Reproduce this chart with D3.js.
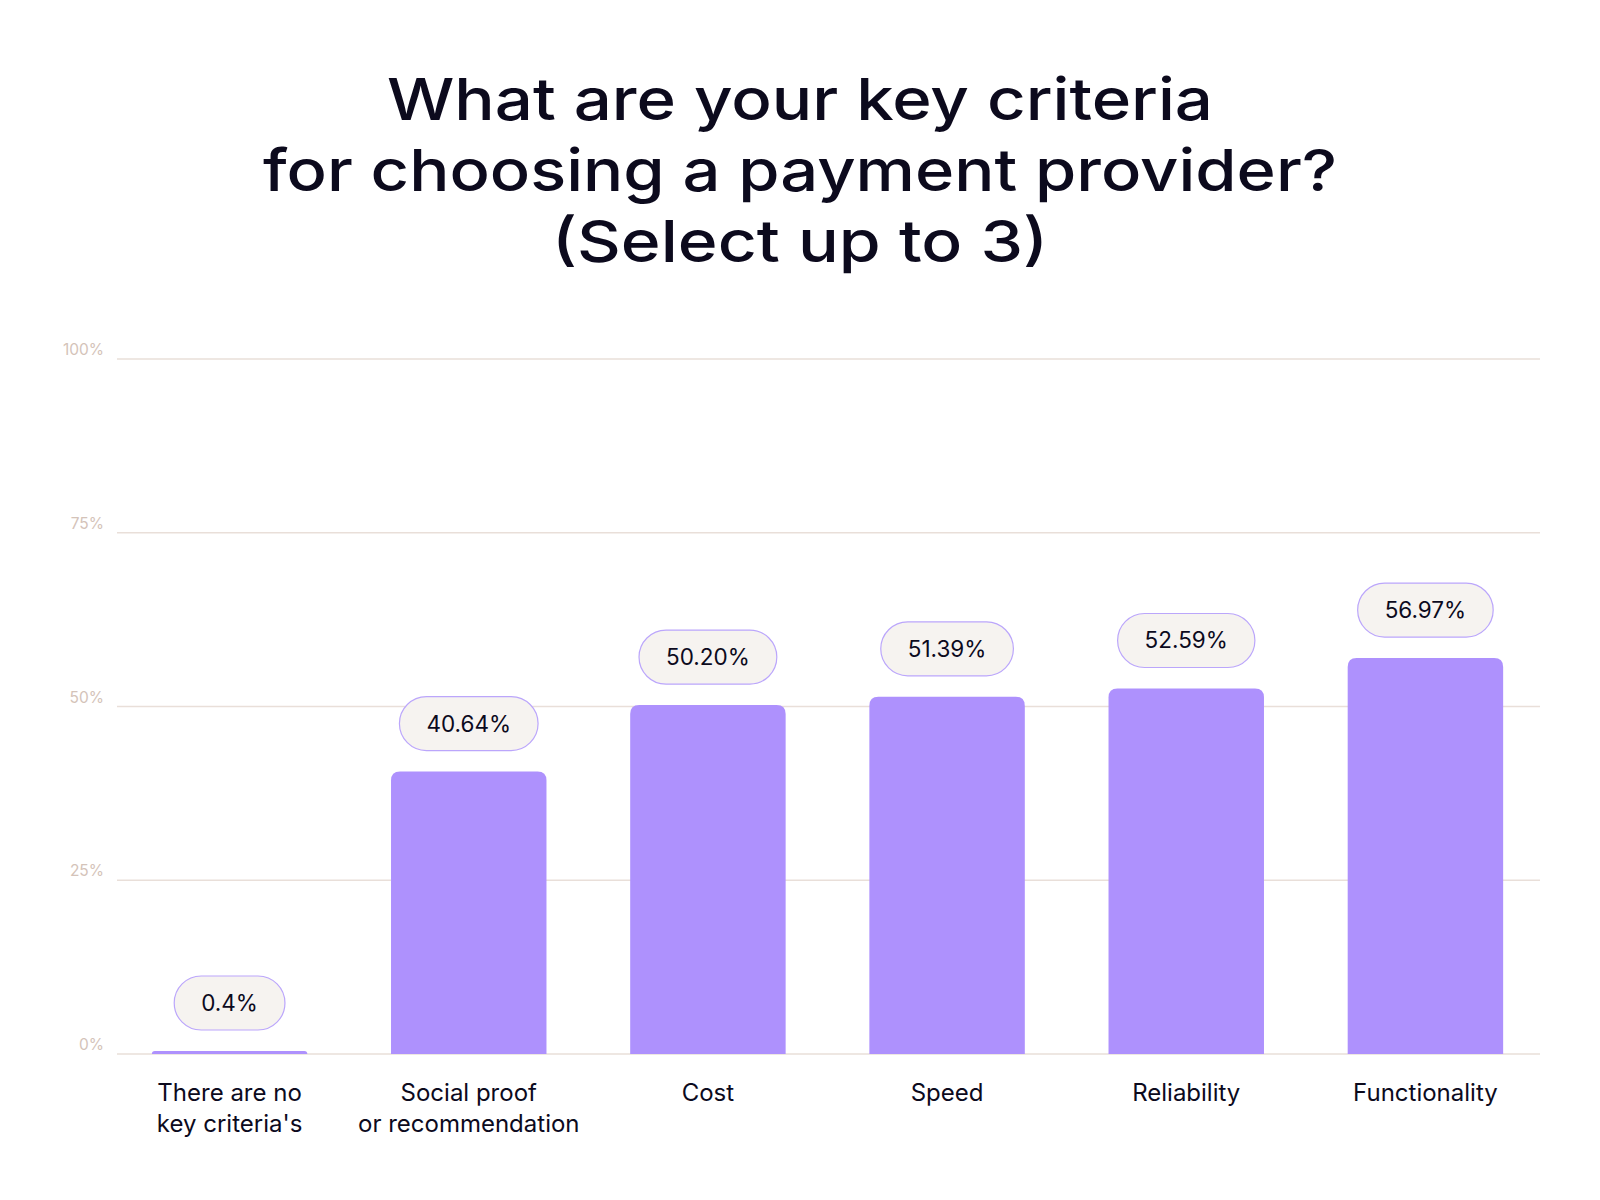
<!DOCTYPE html>
<html><head><meta charset="utf-8">
<script src="https://cdn.jsdelivr.net/npm/d3@7"></script>
<style>
html,body{margin:0;padding:0;background:#fff;}
svg{display:block;}
</style></head>
<body>
<svg id="chart" width="1600" height="1200"></svg>
<script>
const titleLines = ["What are your key criteria", "for choosing a payment provider?", "(Select up to 3)"];
const categories = [["There are no", "key criteria's"], ["Social proof", "or recommendation"], ["Cost"], ["Speed"], ["Reliability"], ["Functionality"]];
const values = [0.4, 40.64, 50.20, 51.39, 52.59, 56.97];
const valueLabels = ["0.4%", "40.64%", "50.20%", "51.39%", "52.59%", "56.97%"];
const yTicks = [0, 25, 50, 75, 100];
const yTickLabels = ["0%", "25%", "50%", "75%", "100%"];

const svg = d3.select("#chart");
const ink = "#0c0a1d";

// Title
const titleWidths = [826, 1074, 496];
svg.append("g").selectAll("text").data(titleLines).join("text")
  .attr("x", 800).attr("y", (d, i) => 120 + i * 71)
  .attr("text-anchor", "middle")
  .attr("font-family", "Inter, sans-serif")
  .attr("font-weight", 500)
  .attr("font-size", 58)
  .attr("fill", ink)
  .attr("textLength", (d, i) => titleWidths[i])
  .attr("lengthAdjust", "spacingAndGlyphs")
  .text(d => d);

const x = d3.scaleBand().domain(d3.range(categories.length)).range([110, 1545]).paddingInner(0.35).paddingOuter(0.175);
const y = d3.scaleLinear().domain([0, 100]).range([1054, 359]);

// Gridlines
const grid = svg.append("g");
grid.selectAll("line").data(yTicks).join("line")
  .attr("x1", 117).attr("x2", 1540)
  .attr("y1", d => y(d)).attr("y2", d => y(d))
  .attr("stroke", "#e9dfd9").attr("stroke-width", 1.3);
grid.selectAll("text").data(yTicks).join("text")
  .attr("x", 104).attr("y", d => y(d) - 4)
  .attr("text-anchor", "end")
  .attr("font-family", "Inter, sans-serif")
  .attr("font-size", 15.5)
  .attr("fill", "#d4c3b9")
  .text((d, i) => yTickLabels[i]);

// Bars with rounded top
const r = 9;
function barPath(x0, w, yTop, yBase) {
  const h = yBase - yTop;
  const rr = Math.min(r, h, w / 2);
  return `M${x0},${yBase} L${x0},${yTop + rr} Q${x0},${yTop} ${x0 + rr},${yTop} L${x0 + w - rr},${yTop} Q${x0 + w},${yTop} ${x0 + w},${yTop + rr} L${x0 + w},${yBase} Z`;
}
svg.append("g").selectAll("path").data(values).join("path")
  .attr("d", (d, i) => barPath(x(i), x.bandwidth(), Math.min(y(d), y(0) - 3), y(0)))
  .attr("fill", "#ae91fd");

// Value pills
const pills = svg.append("g").selectAll("g").data(values).join("g")
  .attr("transform", (d, i) => `translate(${x(i) + x.bandwidth() / 2},${Math.min(y(d), y(0) - 3) - 48})`);
pills.each(function(d, i) {
  const g = d3.select(this);
  const t = g.append("text")
    .attr("x", 0).attr("y", 8)
    .attr("text-anchor", "middle")
    .attr("font-family", "Inter, sans-serif")
    .attr("font-size", 22.5)
    .attr("fill", ink)
    .text(valueLabels[i]);
  const w = t.node().getComputedTextLength() + 54;
  g.insert("rect", "text")
    .attr("x", -w / 2).attr("y", -27)
    .attr("width", w).attr("height", 54)
    .attr("rx", 27).attr("ry", 27)
    .attr("fill", "#f6f3f0")
    .attr("stroke", "#bba6fb").attr("stroke-width", 1.2);
});

// Category labels
const cats = svg.append("g").selectAll("text").data(categories).join("text")
  .attr("x", (d, i) => x(i) + x.bandwidth() / 2)
  .attr("y", 1101)
  .attr("text-anchor", "middle")
  .attr("font-family", "Inter, sans-serif")
  .attr("font-size", 24)
  .attr("fill", ink);
cats.selectAll("tspan").data(d => d).join("tspan")
  .attr("x", function() { return d3.select(this.parentNode).attr("x"); })
  .attr("dy", (d, i) => i === 0 ? 0 : 31)
  .text(d => d);
</script>
</body></html>
